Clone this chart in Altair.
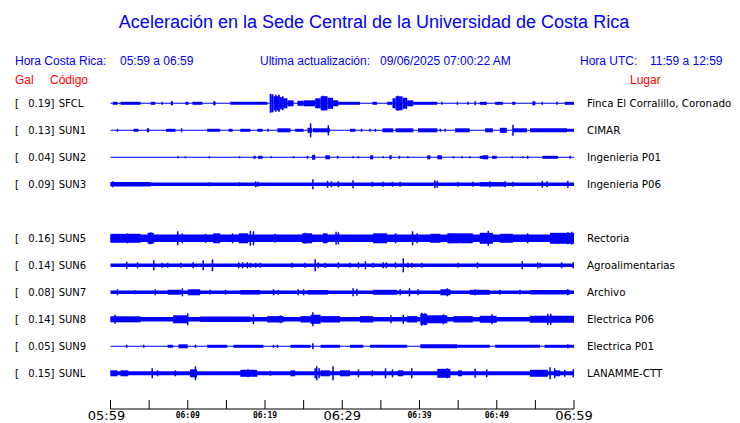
import altair as alt
import pandas as pd

BLUE = "#0000ff"
RED = "#ff0000"
SANS = "Liberation Sans"
DJ = "DejaVu Sans"

# ---------------- data ----------------
codes = ["SFCL", "SUN1", "SUN2", "SUN3", "SUN5", "SUN6", "SUN7", "SUN8", "SUN9", "SUNL"]
slots = [0, 1, 2, 3, 5, 6, 7, 8, 9, 10]
gal = ["0.19", "0.13", "0.04", "0.09", "0.16", "0.14", "0.08", "0.14", "0.05", "0.15"]
places = ["Finca El Corralillo, Coronado", "CIMAR", "Ingenieria P01", "Ingenieria P06",
          "Rectoria", "Agroalimentarias", "Archivo", "Electrica P06", "Electrica P01",
          "LANAMME-CTT"]
# background noise half-amplitude of each trace (27 units = spacing between traces)
base_amp = [0.5, 0.5, 0.5, 1.7, 3.7, 1.8, 1.7, 2.3, 0.5, 2.0]

# sustained activity: (start minute, end minute, half amplitude)
segments = {
    "SFCL": [(0.3, 0.9, 1.5), (1.3, 3.9, 1.5), (5.2, 5.8, 1.5), (7.8, 8.1, 2), (9.7, 10.1, 1.5),
             (10.6, 11.9, 1.5), (13.3, 13.6, 2), (15.5, 20.3, 1.5),
             (20.8, 21.1, 9), (21.1, 21.7, 7), (21.7, 21.9, 8), (21.9, 22.4, 6), (22.4, 22.9, 5),
             (22.9, 23.7, 3), (24.2, 25.0, 2.5),
             (25.0, 26.5, 3), (26.5, 27.2, 5), (27.2, 28.1, 7), (28.1, 28.8, 5.5), (28.8, 29.5, 3),
             (29.5, 32.3, 1.5), (33.9, 34.5, 1.5), (35.8, 36.5, 1.5),
             (36.5, 36.9, 5), (36.9, 37.8, 7), (37.8, 38.4, 5.5), (38.4, 39.2, 3),
             (39.2, 42.3, 1.5), (47.8, 48.7, 1.5), (49.8, 50.8, 1.5), (52.0, 52.4, 1.5),
             (54.6, 55.0, 2), (58.8, 60.0, 1.5)],
    "SUN1": [(3.0, 3.6, 1.5), (4.7, 5.0, 2), (7.2, 8.4, 1.5), (9.1, 9.3, 2), (12.5, 14.2, 1.5),
             (15.3, 15.8, 1.5), (16.8, 18.1, 1.5), (19.0, 19.7, 1.5), (21.6, 23.3, 2),
             (23.9, 25.0, 1.5), (25.5, 26.1, 2.5), (26.2, 28.4, 2), (31.0, 31.7, 1.5),
             (35.2, 36.6, 2), (36.9, 39.2, 2), (39.8, 42.3, 2), (44.6, 46.5, 2), (48.5, 49.5, 2),
             (50.4, 51.3, 2.5), (52.1, 53.9, 2), (54.3, 59.1, 2), (59.1, 60.0, 1.5)],
    "SUN2": [(18.5, 18.8, 1.5), (19.1, 19.7, 1.5), (26.1, 26.5, 2.5), (27.8, 28.4, 2),
             (33.6, 34.0, 2), (36.1, 36.4, 2), (41.0, 41.4, 2), (42.3, 42.9, 2),
             (47.8, 48.5, 1.5), (48.2, 48.9, 2), (49.4, 50.0, 1.5), (55.9, 57.9, 1.5)],
    "SUN3": [(0.0, 5.2, 2.3), (47.8, 51.2, 2.2)],
    "SUN5": [(0.0, 3.9, 4.5), (4.8, 5.6, 5.5), (13.3, 14.2, 5), (16.6, 17.8, 5), (24.8, 26.1, 5),
             (27.5, 28.1, 5), (34.0, 35.8, 5), (41.4, 42.7, 4.5), (43.6, 45.3, 5),
             (45.3, 46.9, 5), (47.8, 49.5, 5.5), (50.4, 52.1, 4.5), (56.9, 60.0, 5.5)],
    "SUN6": [],
    "SUN7": [(7.4, 9.1, 2.5), (10.0, 11.6, 3), (16.8, 19.4, 2.3), (25.5, 28.2, 2.3),
             (34.0, 37.1, 2.5), (42.7, 44.0, 3), (46.5, 49.1, 2.5), (54.3, 59.5, 2.3)],
    "SUN8": [(0.0, 3.9, 3), (8.1, 10.0, 4), (11.6, 18.1, 2.8), (20.3, 22.4, 3.2),
             (24.6, 25.9, 3.2), (25.9, 27.2, 4.5), (27.2, 29.7, 3.2), (32.3, 34.0, 3.2),
             (38.4, 39.7, 3.2), (40.1, 41.0, 5.5), (41.0, 43.6, 4), (44.4, 46.9, 3.2),
             (47.8, 50.0, 3.5), (54.3, 60.0, 3.5)],
    "SUN9": [(7.4, 8.1, 1.5), (8.8, 10.0, 2), (12.5, 15.1, 1.5), (15.9, 19.8, 1.5),
             (23.3, 25.9, 1.5), (27.2, 29.7, 1.5), (31.0, 32.7, 1.5), (33.6, 38.4, 1.5),
             (40.1, 44.9, 2), (44.9, 49.1, 1.5), (49.8, 55.6, 1.5), (56.2, 60.0, 1.5)],
    "SUNL": [(0.0, 0.9, 3), (1.3, 2.3, 3), (10.3, 11.2, 4), (16.8, 19.0, 3.5), (23.3, 23.9, 3),
             (27.2, 28.4, 3), (29.7, 31.0, 3), (37.2, 37.9, 3), (42.3, 44.0, 4.5),
             (45.0, 45.5, 3), (54.3, 56.6, 3.5), (57.5, 58.2, 3)],
}

# isolated peaks: (minute, half amplitude)
spikes = {
    "SFCL": [(6.7, 1.5), (20.7, 9.5), (21.4, 8.5), (21.8, 8.5), (22.3, 7), (27.5, 7.5),
             (27.9, 7), (37.2, 7.5), (42.9, 1.5), (44.9, 1.5), (46.3, 1.5), (47.2, 2),
             (48.5, 1.5), (55.9, 1.5), (57.8, 1.5)],
    "SUN1": [(0.9, 1.5), (20.4, 1.5), (25.9, 7), (28.2, 5), (32.5, 1.5), (33.6, 1.5),
             (34.3, 1.5), (42.7, 1.5), (43.3, 1.5), (52.1, 5.5)],
    "SUN2": [(8.7, 1), (9.7, 1), (12.8, 1), (16.7, 1), (20.8, 1), (23.7, 1), (25.5, 1.5),
             (29.4, 1.5), (31.4, 1), (32.1, 1), (35.3, 1), (37.4, 1.5), (38.5, 1), (44.4, 1),
             (45.5, 1), (46.5, 1), (52.0, 1), (53.4, 1), (54.0, 1.5), (59.5, 1.5)],
    "SUN3": [(0.3, 3), (12.8, 2), (16.7, 2), (18.8, 3), (19.1, 2.5), (26.2, 5), (28.1, 3.5),
             (28.6, 3), (29.5, 3), (31.4, 4), (33.9, 2.5), (35.3, 2.5), (36.5, 2.5),
             (37.5, 2.5), (42.0, 4), (42.3, 3.5), (45.0, 2.5), (46.9, 2.5), (49.1, 3),
             (51.1, 3), (52.1, 2.5), (55.9, 3.5), (56.5, 3), (59.2, 3.5)],
    "SUN5": [(2.2, 5), (5.2, 6), (8.7, 7), (9.3, 5), (12.3, 4.5), (15.8, 5), (18.1, 7.5),
             (18.5, 7), (21.3, 4.5), (25.2, 5.5), (29.2, 6.5), (29.5, 6), (36.9, 5),
             (39.1, 7), (39.7, 5), (44.0, 5), (48.9, 7.5), (54.0, 5), (59.2, 6), (59.7, 6.5)],
    "SUN6": [(2.1, 3.5), (3.5, 3), (5.6, 5), (6.7, 2.5), (7.4, 2.5), (9.1, 2.5), (10.7, 3),
             (12.0, 5), (13.2, 6), (16.6, 3), (17.1, 3), (17.7, 3), (18.1, 2.5), (18.8, 2.5),
             (19.4, 2.5), (23.5, 2.5), (25.2, 2.5), (26.5, 6), (26.9, 3), (27.8, 2.5),
             (29.5, 3), (31.0, 2.5), (32.1, 3), (33.0, 4), (34.0, 2.5), (35.3, 3), (35.7, 3),
             (36.9, 3), (37.9, 7), (38.5, 2.5), (39.0, 2.5), (40.3, 2.5), (45.0, 2.5),
             (47.5, 3), (53.3, 4), (55.3, 3), (55.6, 2.5), (58.4, 3), (59.9, 3)],
    "SUN7": [(0.9, 3), (3.2, 2), (5.8, 3), (9.3, 4), (12.9, 2.5), (14.9, 2.5), (21.1, 3),
             (21.7, 2.5), (24.3, 3), (25.0, 3), (31.4, 4), (31.9, 3.5), (37.5, 3), (38.7, 4),
             (39.8, 3), (43.6, 4), (47.2, 3), (50.4, 2.5), (53.0, 2.5), (59.2, 3)],
    "SUN8": [(0.6, 4.5), (10.0, 6), (18.5, 5), (22.0, 4), (26.2, 7), (36.3, 4), (37.9, 4.5),
             (40.3, 6.5), (40.7, 6), (43.1, 5), (49.4, 5), (56.6, 5.5), (57.0, 5.5)],
    "SUN9": [(2.1, 1.5), (4.3, 1.5), (11.0, 1.5), (21.1, 1.5), (21.6, 1.5), (26.2, 3),
             (59.2, 2)],
    "SUNL": [(5.4, 5), (6.1, 3), (8.4, 3), (11.0, 7), (17.8, 4), (20.7, 2.5), (26.5, 5),
             (26.7, 7), (27.0, 5), (28.8, 7), (32.1, 4), (33.9, 3), (35.6, 5), (36.5, 4),
             (39.0, 5), (43.6, 5), (47.2, 4.5), (48.7, 4), (56.9, 6), (57.5, 5), (58.8, 3.5),
             (59.9, 4)],
}

tick_minutes = [0, 5, 10, 15, 20, 25, 30, 35, 40, 45, 50, 55, 60]
first_tick, first_label = [0], ["05:59"]
major_ticks = [30, 60]
major_labels = ["06:29", "06:59"]
minor_ticks = [10, 20, 40, 50]
minor_labels = ["06:09", "06:19", "06:39", "06:49"]

# ---------------- tables ----------------
SPACING = 27

base_rows, seg_rows, spk_rows, lab_rows = [], [], [], []
for c, s, a, g, p in zip(codes, slots, base_amp, gal, places):
    y0 = s * SPACING
    base_rows.append({"t0": 0, "t1": 60, "lo": y0 - a, "hi": y0 + a})
    for (t0, t1, amp) in segments[c]:
        seg_rows.append({"t0": t0, "t1": t1, "lo": y0 - amp, "hi": y0 + amp})
    for (t, amp) in spikes[c]:
        spk_rows.append({"t": t, "lo": y0 - amp, "hi": y0 + amp})
    lab_rows.append({"y": y0, "gal": g + "]", "code": c, "place": p, "br": "["})

rects = pd.DataFrame(base_rows + seg_rows)
spk = pd.DataFrame(spk_rows)
labs = pd.DataFrame(lab_rows)

xs = alt.Scale(domain=[0, 60], range=[102.5, 566], nice=False, zero=False)
ys = alt.Scale(domain=[0, 270], range=[95.3, 365.3], nice=False, zero=False)

trace_rect = alt.Chart(rects).mark_rect(color=BLUE).encode(
    x=alt.X("t0:Q", scale=xs, axis=None), x2="t1:Q",
    y=alt.Y("lo:Q", scale=ys, axis=None), y2="hi:Q")
trace_spk = alt.Chart(spk).mark_rule(color=BLUE, strokeWidth=1.5).encode(
    x=alt.X("t:Q", scale=xs, axis=None),
    y=alt.Y("lo:Q", scale=ys, axis=None), y2="hi:Q")


def lab_layer(field, x, align, size=10):
    return alt.Chart(labs).mark_text(x=x, dy=4, align=align, baseline="alphabetic",
                                     font=DJ, fontSize=size, color="black").encode(
        y=alt.Y("y:Q", scale=ys, axis=None), text=f"{field}:N")


def txt(text, x, y, size, color, align="left", font=SANS, weight="normal"):
    return alt.Chart(pd.DataFrame({"t": [text]})).mark_text(
        x=x, y=y, fontSize=size, color=color, align=align, baseline="alphabetic",
        font=font, fontWeight=weight).encode(text="t:N")


def tick_text(ticks, labels, y, font, size, weight="normal", dx=0):
    return alt.Chart(pd.DataFrame({"t": ticks, "l": labels})).mark_text(
        y=y, dx=dx, align="center", baseline="alphabetic", font=font, fontSize=size,
        fontWeight=weight, color="black").encode(
        x=alt.X("t:Q", scale=xs, axis=None), text="l:N")


# axis
axis_line = alt.Chart(pd.DataFrame({"t0": [0], "t1": [60]})).mark_rule(
    color="black", strokeWidth=1).encode(
    x=alt.X("t0:Q", scale=xs, axis=None), x2="t1:Q", y=alt.value(401))
axis_ticks = alt.Chart(pd.DataFrame({"t": tick_minutes})).mark_rule(
    color="black", strokeWidth=1).encode(
    x=alt.X("t:Q", scale=xs, axis=None), y=alt.value(392), y2=alt.value(401))

layers = [
    trace_rect, trace_spk,
    lab_layer("br", 7, "left"), lab_layer("gal", 46.5, "right"),
    lab_layer("code", 50.7, "left"), lab_layer("place", 579, "left", 10.3),
    axis_line, axis_ticks,
    tick_text(first_tick, first_label, 411.5, DJ, 13, dx=-4),
    tick_text(major_ticks, major_labels, 411.5, DJ, 13),
    tick_text(minor_ticks, minor_labels, 410, "DejaVu Sans Mono", 8, "bold"),
    txt("Aceleración en la Sede Central de la Universidad de Costa Rica", 366, 20, 18, BLUE, "center"),
    txt("Hora Costa Rica:", 7, 57, 12, BLUE),
    txt("05:59 a 06:59", 112, 57, 12, BLUE),
    txt("Ultima actualización:", 252, 57, 12, BLUE),
    txt("09/06/2025 07:00:22 AM", 372, 57, 12, BLUE),
    txt("Hora UTC:", 572, 57, 12, BLUE),
    txt("11:59 a 12:59", 642, 57, 12, BLUE),
    txt("Gal", 7, 76, 12, RED),
    txt("Código", 42, 76, 12, RED),
    txt("Lugar", 622, 76, 12, RED),
]

chart = alt.layer(*layers).properties(
    width=724, height=413, padding=0,
    autosize=alt.AutoSizeParams(type="none"),
    background="white",
).configure_view(stroke=None)

chart.save("out.html", embed_options={"renderer": "svg", "actions": False})
